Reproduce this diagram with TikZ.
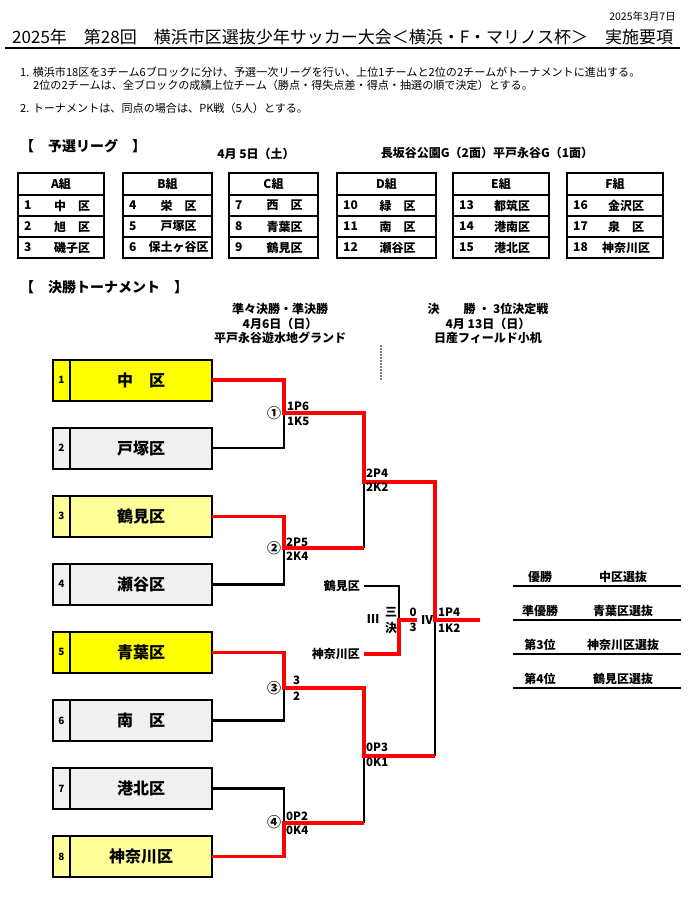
\documentclass[tikz,border=0pt]{standalone}
\usepackage{fontspec}
\setmainfont{Noto Sans CJK JP}
\usepackage{xcolor}
\usetikzlibrary{calc, positioning, backgrounds}
\definecolor{hiyellow}{HTML}{FFFF00}
\definecolor{paleyellow}{HTML}{FFFF99}
\definecolor{palegray}{HTML}{F0F0F0}
\definecolor{winred}{HTML}{FF0000}
\tikzset{
    textnode/.style = {draw=none, fill=none, rectangle, inner sep=0em, node distance=0em},
    plaintext/.style = {textnode, anchor=west, font=\fontsize{11.1}{13}\selectfont},
    boldtext/.style = {textnode, font=\fontsize{12}{14}\selectfont\bfseries},
    headnode/.style = {textnode, anchor=west, font=\fontsize{14}{16}\selectfont\bfseries},
    scorenode/.style = {textnode, anchor=west, font=\fontsize{11.5}{13}\selectfont\bfseries},
    circnode/.style = {textnode, font=\fontsize{14}{16}\selectfont\bfseries},
    thirdnode/.style = {textnode, anchor=east, inner xsep=4pt, font=\fontsize{12}{14}\selectfont\bfseries},
    cellnode/.style = {draw, rectangle, line width=1.6pt, inner sep=0em, outer sep=0em, anchor=north west},
    numnode/.style = {draw, rectangle, line width=2pt, inner sep=0em, outer sep=0em,
      minimum width=17pt, minimum height=41pt, font=\fontsize{10}{12}\selectfont\bfseries},
    teamnode/.style = {draw, rectangle, line width=2pt, inner sep=0em, outer sep=0em,
      minimum width=142pt, minimum height=41pt, font=\fontsize{16}{18}\selectfont\bfseries},
    winline/.style = {winred, line width=3.2pt},
    loseline/.style = {black, line width=2.6pt},
    every text node part/.style={align=center}
}

\begin{document}
\begin{tikzpicture}[x=1pt, y=-1pt]
    \useasboundingbox (0,0) rectangle (690,898);

    % heading
    \node [textnode, name=issued, anchor=east, font=\fontsize{10.5}{12}\selectfont] at (676,16) {2025年3月7日};
    \node [textnode, name=title, anchor=west, font=\fontsize{17}{20}\selectfont] at (12,37)
      {2025年　第28回　横浜市区選抜少年サッカー大会＜横浜・F・マリノス杯＞　実施要項};
    \draw [line width=1.8pt] (5,48) -- (680,48);
    \node [plaintext, name=note1] at (20,72) {1. 横浜市18区を3チーム6ブロックに分け、予選一次リーグを行い、上位1チームと2位の2チームがトーナメントに進出する。};
    \node [plaintext, name=note1b] at (33,85) {2位の2チームは、全ブロックの成績上位チーム（勝点・得失点差・得点・抽選の順で決定）とする。};
    \node [plaintext, name=note2] at (20,108) {2. トーナメントは、同点の場合は、PK戦（5人）とする。};

    % league
    \node [headnode, name=leaguehead] at (20,146) {【　予選リーグ　】};
    \node [boldtext, name=leaguedate] at (256,154) {4月 5日（土）};
    \node [boldtext, name=leaguevenue] at (487,153) {長坂谷公園G（2面）平戸永谷G（1面）};
    \foreach \grp/\gx/\gw/\ta/\tb/\tc [count=\k] in {A/18/86/中　区/旭　区/磯子区, B/123/89/栄　区/戸塚区/保土ヶ谷区,
        C/229/89/西　区/青葉区/鶴見区, D/337/99/緑　区/南　区/瀬谷区, E/453/96/都筑区/港南区/港北区, F/567/96/金沢区/泉　区/神奈川区}
    {
      \node [cellnode, name=grp\grp, minimum width=\gw pt, minimum height=22pt] at (\gx,173) {};
      \node [boldtext, name=grp\grp-label] at (grp\grp) {\grp 組};
      \foreach \team [count=\r] in {\ta,\tb,\tc} {
        \pgfmathtruncatemacro{\num}{3*\k-3+\r}
        \node [cellnode, name=grp\grp-\r, minimum width=\gw pt, minimum height=21pt] at (\gx,174+21*\r) {};
        \node [boldtext, name=grp\grp-n\r, anchor=west] at ($(grp\grp-\r.west)+(6,0)$) {\num};
        \node [boldtext, name=grp\grp-t\r] at ($(grp\grp-\r.center)+(11,0)$) {\team};
      }
    }

    % tournament
    \node [headnode, name=cuphead] at (20,287) {【　決勝トーナメント　】};
    \node [boldtext, name=qfround] at (280,309) {準々決勝・準決勝};
    \node [boldtext, name=qfdate, below of=qfround, yshift=-14.5pt] {4月6日（日）};
    \node [boldtext, name=qfvenue, below of=qfdate, yshift=-14.5pt] {平戸永谷遊水地グランド};
    \node [boldtext, name=finround] at (488,309) {決　　勝 ・ 3位決定戦};
    \node [boldtext, name=findate, below of=finround, yshift=-14.5pt] {4月 13日（日）};
    \node [boldtext, name=finvenue, below of=findate, yshift=-14.5pt] {日産フィールド小机};
    \draw [gray, line width=1.3pt, dash pattern=on 2pt off 1pt] (381,345) -- (381,380);

    \foreach \num/\team/\shade in {1/中　区/hiyellow, 2/戸塚区/palegray, 3/鶴見区/paleyellow, 4/瀬谷区/palegray,
        5/青葉区/hiyellow, 6/南　区/palegray, 7/港北区/palegray, 8/神奈川区/paleyellow}
    {
      \node [numnode, fill=\shade, name=n\num] at (61.5, 311.9+68.1*\num) {\num};
      \node [teamnode, fill=\shade, name=t\num, right=0pt of n\num] {\team};
    }

    \coordinate (m1) at (284,413);
    \coordinate (m2) at (284,548);
    \coordinate (m3) at (284,688);
    \coordinate (m4) at (284,823);
    \coordinate (s1) at (364,482);
    \coordinate (s2) at (364,756);
    \coordinate (f) at (435,620);
    \coordinate (champ) at (480,620);
    \coordinate (q) at (399,620);
    \coordinate (qend) at (417,620);

    % third place
    \node [thirdnode, name=q1] at (364,586) {鶴見区};
    \node [thirdnode, name=q2] at (364,654) {神奈川区};

    \draw [loseline] (t2.east) -| (m1);
    \draw [loseline] (t4.east) -| (m2);
    \draw [loseline] (t6.east) -| (m3);
    \draw [loseline] (t7.east) -| (m4);
    \draw [loseline] (m2 -| s1) -- (s1);
    \draw [loseline] (m4 -| s2) -- (s2);
    \draw [loseline] (s2 -| f) -- (f);
    \draw [loseline] (q1.east) -| (q);
    \draw [winline] (t1.east) -| (m1) -| (s1) -| (f) -- (champ);
    \draw [winline] (t3.east) -| (m2) -- (m2 -| s1);
    \draw [winline] (t5.east) -| (m3) -| (s2) -- (s2 -| f);
    \draw [winline] (t8.east) -| (m4) -- (m4 -| s2);
    \draw [winline] (q2.east) -| (q) -- (qend);

    \node [circnode, name=r1] at (274,413) {①};
    \node [circnode, name=r2] at (274,548) {②};
    \node [circnode, name=r3] at (274,688) {③};
    \node [circnode, name=r4] at (274,822) {④};
    \node [scorenode, name=r1-pk] at (287,406) {1P6};
    \node [scorenode, name=r1-kick] at (287,421) {1K5};
    \node [scorenode, name=r2-pk] at (286,542) {2P5};
    \node [scorenode, name=r2-kick] at (286,556) {2K4};
    \node [scorenode, name=r3-pk] at (293,680) {3};
    \node [scorenode, name=r3-kick] at (293,696) {2};
    \node [scorenode, name=r4-pk] at (286,816) {0P2};
    \node [scorenode, name=r4-kick] at (286,830) {0K4};
    \node [scorenode, name=s1-pk] at (366,473) {2P4};
    \node [scorenode, name=s1-kick] at (366,487) {2K2};
    \node [scorenode, name=s2-pk] at (366,747) {0P3};
    \node [scorenode, name=s2-kick] at (366,762) {0K1};
    \node [boldtext, name=thirdmark] at (373,619) {Ⅲ};
    \node [boldtext, name=thirdtop] at (391,612) {三};
    \node [boldtext, name=thirdbot] at (391,628) {決};
    \node [scorenode, name=q-pk, anchor=center] at (413,612) {0};
    \node [scorenode, name=q-kick, anchor=center] at (413,627) {3};
    \node [boldtext, name=finmark] at (427,620) {Ⅳ};
    \node [scorenode, name=f-pk] at (438,612) {1P4};
    \node [scorenode, name=f-kick] at (438,628) {1K2};

    % results
    \foreach \place/\team [count=\i] in {優勝/中区選抜, 準優勝/青葉区選抜, 第3位/神奈川区選抜, 第4位/鶴見区選抜} {
      \coordinate (rank\i-l) at (513, 552+34*\i);
      \coordinate (rank\i-r) at (681, 552+34*\i);
      \draw [line width=1.8pt] (rank\i-l) -- (rank\i-r);
      \node [boldtext, name=rank\i-place] at (540, 543+34*\i) {\place};
      \node [boldtext, name=rank\i-team] at (623, 543+34*\i) {\team};
    }
\end{tikzpicture}
\end{document}
